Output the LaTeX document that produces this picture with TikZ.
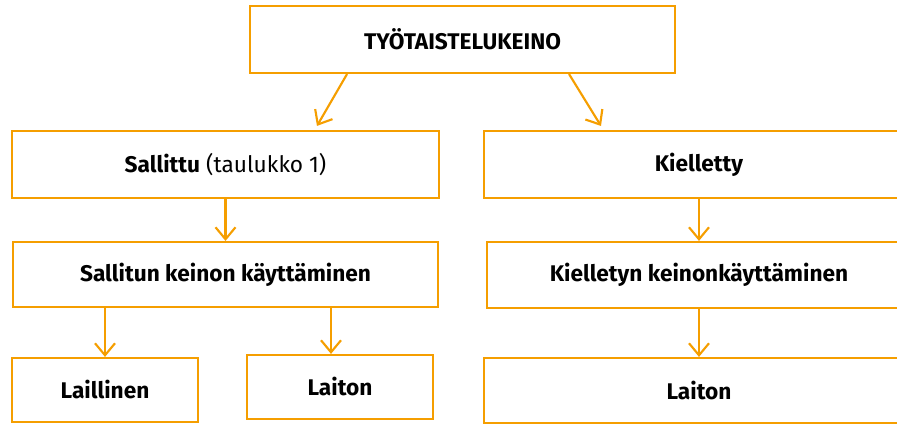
\documentclass[tikz,border=0pt]{standalone}
\usepackage{fontspec}
\setmainfont{Fira Sans}
\usetikzlibrary{arrows.meta}
\definecolor{org}{RGB}{245,158,0}
\tikzset{
  box/.style={draw=org, line width=1.6pt, fill=white, inner sep=0pt, align=center,
    font=\fontsize{17}{20}\selectfont},
  arr/.style={draw=org, line width=1.6pt, -{Straight Barb[length=9pt,width=15pt,line width=1.6pt]}},
}
\begin{document}
\begin{tikzpicture}[x=0.75pt,y=-0.75pt]
\useasboundingbox (0,0) rectangle (897,424);
\clip (0,0) rectangle (897,424);
\node[box, minimum width=318.75pt, minimum height=50.25pt] (top) at (462.5,39.5) {\textbf{TYÖTAISTELUKEINO}};
\node[box, minimum width=320.25pt, minimum height=50.25pt] (sall) at (225.5,164.5) {\textbf{Sallittu} (taulukko 1)};
\node[box, minimum width=322.5pt, minimum height=50.25pt] (kiel) at (699,164.5) {\textbf{Kielletty}};
\node[box, minimum width=318.75pt, minimum height=48.75pt] (sallitun) at (225.5,274.5) {\textbf{Sallitun keinon käyttäminen}};
\node[box, minimum width=318pt, minimum height=49.5pt] (kieltyn) at (699,275) {\textbf{Kielletyn keinonkäyttäminen}};
\node[box, minimum width=139.5pt, minimum height=48pt] (lail) at (105,390) {\textbf{Laillinen}};
\node[box, minimum width=139.5pt, minimum height=48pt] (laitL) at (340,387) {\textbf{Laiton}};
\node[box, minimum width=322.5pt, minimum height=48.75pt] (laitR) at (699,390.5) {\textbf{Laiton}};
\draw[arr] ([xshift=-86.6pt]top.south) -- ([xshift=68.6pt,yshift=3pt]sall.north);
\draw[arr] ([xshift=79.9pt]top.south) -- ([xshift=-73.5pt,yshift=3pt]kiel.north);
\draw[arr] (sall.south) -- (sallitun.north);
\draw[arr] (kiel.south) -- (kieltyn.north);
\draw[arr] (lail.north |- sallitun.south) -- (lail.north);
\draw[arr] ([xshift=-6.75pt]laitL.north |- sallitun.south) -- ([xshift=-6.75pt]laitL.north);
\draw[arr] (kieltyn.south) -- (laitR.north);
\end{tikzpicture}
\end{document}
